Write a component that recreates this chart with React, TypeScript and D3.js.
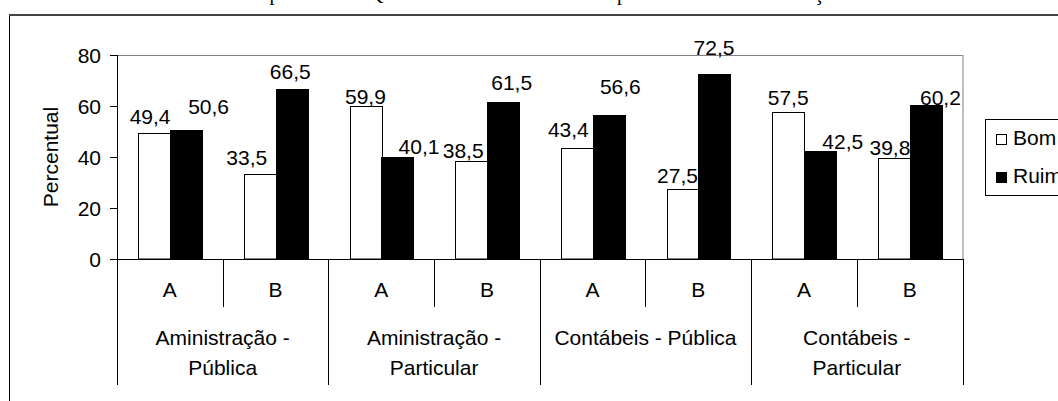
import React from "react";
import * as d3 from "d3";

// ---- data ----
const groupLines: string[][] = [
  ["Aministração -", "Pública"],
  ["Aministração -", "Particular"],
  ["Contábeis - Pública"],
  ["Contábeis -", "Particular"],
];
const types = ["A", "B"];
const series = ["Bom", "Ruim"];
const bom = [49.4, 33.5, 59.9, 38.5, 43.4, 27.5, 57.5, 39.8];
const ruim = [50.6, 66.5, 40.1, 61.5, 56.6, 72.5, 42.5, 60.2];
const yTicks = [0, 20, 40, 60, 80];
const yLabel = "Percentual";
const titleChunks = [
  "Gráfico 2 – Opinião da",
  "Qualidade do ensino nos cursos",
  "pelos discentes na avaliação",
];
// manual label nudges (dx, dy) as in the original chart, per category [Bom, Ruim]
const labelNudge: [number, number][][] = [
  [[-4, -4.5], [23, -11.5]],
  [[-13, -3.6], [-1, -6]],
  [[0, 2], [22, 2]],
  [[-8, 2], [9, -8]],
  [[-8.5, -7], [12, -16]],
  [[-5, -1], [0, -14.6]],
  [[0, -3], [23, 3]],
  [[-4, 2], [15, 4]],
];

const FONT = "'Liberation Sans', Arial, Helvetica, sans-serif";
const FS = 21;

export default function App() {
  const W = 1058, H = 401;
  const left = 117, right = 962.5, top = 55, bottom = 259;

  const cats = groupLines.flatMap((_, g) => types.map((t) => `${g}-${t}`));
  const x0 = d3.scaleBand<string>().domain(cats).range([left, right]).padding(0);
  const x1 = d3
    .scaleBand<string>()
    .domain(series)
    .range([0, x0.bandwidth()])
    .paddingInner(0)
    .paddingOuter(0.676);
  const y = d3.scaleLinear().domain([0, 80]).range([bottom, top]);

  const values = [bom, ruim];
  const fills = ["#ffffff", "#000000"];

  const groupW = x0.bandwidth() * types.length;

  return (
    <svg
      width={W}
      height={H}
      style={{ position: "fixed", left: 0, top: 0, background: "#fff" }}
      fontFamily={FONT}
    >
      <rect x={0} y={0} width={W} height={H} fill="#fff" />
      {/* clipped title: only descenders visible */}
      <text
        y={-0.5}
        fontFamily="'Liberation Serif', 'Times New Roman', serif"
        fontSize={20}
        fill="#000"
      >
        <tspan x={159}>{titleChunks[0]}</tspan>
        <tspan x={369}>{titleChunks[1]}</tspan>
        <tspan x={617}>{titleChunks[2]}</tspan>
      </text>

      {/* outer chart frame */}
      <rect x={9.5} y={15} width={1200} height={500} fill="none" stroke="#000" strokeWidth={1} />
      <line x1={9} x2={W} y1={15} y2={15} stroke="#444" strokeWidth={2} />

      {/* plot area border (top & right, grey) */}
      <line x1={left} x2={right} y1={top + 0.5} y2={top + 0.5} stroke="#808080" strokeWidth={1} />
      <line x1={right + 0.5} x2={right + 0.5} y1={top} y2={bottom} stroke="#808080" strokeWidth={1} />

      {/* bars */}
      {cats.map((c, i) =>
        series.map((s, si) => {
          const v = values[si][i];
          const xs = Math.round((x0(c) as number) + (x1(s) as number)) + 0.5;
          const w = Math.round(x1.bandwidth());
          const yt = Math.round(y(v)) + 0.5;
          return (
            <rect
              key={`${c}-${s}`}
              x={xs}
              y={yt}
              width={w}
              height={bottom - yt}
              fill={fills[si]}
              stroke="#000"
              strokeWidth={1}
            />
          );
        })
      )}

      {/* value labels */}
      {cats.map((c, i) =>
        series.map((s, si) => {
          const v = values[si][i];
          const cx = (x0(c) as number) + (x1(s) as number) + x1.bandwidth() / 2;
          const [dx, dy] = labelNudge[i][si];
          const cy = y(v) - 12 + dy;
          return (
            <text
              key={`l-${c}-${s}`}
              x={cx + dx}
              y={cy + 7.5}
              textAnchor="middle"
              fontSize={FS}
              fill="#000"
            >
              {v.toFixed(1).replace(".", ",")}
            </text>
          );
        })
      )}

      {/* y axis */}
      <line x1={left + 0.5} x2={left + 0.5} y1={top} y2={bottom + 1} stroke="#000" />
      {yTicks.map((t) => (
        <g key={t}>
          <line
            x1={left - 7}
            x2={left}
            y1={Math.round(y(t)) + 0.5}
            y2={Math.round(y(t)) + 0.5}
            stroke="#000"
          />
          <text x={101} y={y(t) + 7.5} textAnchor="end" fontSize={FS} fill="#000">
            {t}
          </text>
        </g>
      ))}
      <text
        transform={`translate(${58},${(top + bottom) / 2}) rotate(-90)`}
        textAnchor="middle"
        fontSize={FS}
        fill="#000"
      >
        {yLabel}
      </text>

      {/* x axis */}
      <line x1={left} x2={right + 1} y1={bottom + 0.5} y2={bottom + 0.5} stroke="#000" />
      {cats.map((c, i) => {
        const xl = Math.round(x0(c) as number) + 0.5;
        const isGroupStart = i % types.length === 0;
        return (
          <line
            key={`t-${c}`}
            x1={xl}
            x2={xl}
            y1={bottom}
            y2={isGroupStart ? 385 : 307}
            stroke="#000"
          />
        );
      })}
      <line
        x1={Math.round(right) + 0.5}
        x2={Math.round(right) + 0.5}
        y1={bottom}
        y2={385}
        stroke="#000"
      />
      {cats.map((c, i) => (
        <text
          key={`c-${c}`}
          x={(x0(c) as number) + x0.bandwidth() / 2}
          y={297}
          textAnchor="middle"
          fontSize={FS}
          fill="#000"
        >
          {types[i % types.length]}
        </text>
      ))}
      {groupLines.map((lines, g) => {
        const cx = (x0(`${g}-${types[0]}`) as number) + groupW / 2;
        return (
          <text key={`g-${g}`} textAnchor="middle" fontSize={FS} fill="#000">
            {lines.map((ln, li) => (
              <tspan key={li} x={cx} y={345 + li * 30}>
                {ln}
              </tspan>
            ))}
          </text>
        );
      })}

      {/* legend */}
      <rect x={985.5} y={119.5} width={120} height={76} fill="#fff" stroke="#000" />
      {series.map((s, si) => (
        <g key={`lg-${s}`}>
          <rect
            x={996.5}
            y={134.5 + si * 38}
            width={10}
            height={10}
            fill={fills[si]}
            stroke="#000"
          />
          <text x={1013} y={145 + si * 38} fontSize={FS} fill="#000">
            {s}
          </text>
        </g>
      ))}
    </svg>
  );
}
